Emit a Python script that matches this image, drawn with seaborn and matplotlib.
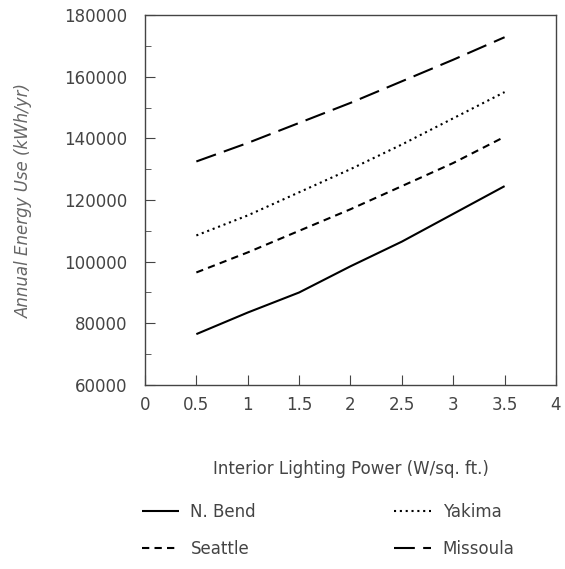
import numpy as np
import pandas as pd
import matplotlib
matplotlib.use("Agg")
import matplotlib.pyplot as plt
import seaborn as sns
from matplotlib.ticker import MultipleLocator

# Interior lighting power (W/sq. ft.)
lighting_power = [0.5, 1.0, 1.5, 2.0, 2.5, 3.0, 3.5]

# Annual energy use (kWh/yr) per city
n_bend = [76500, 83500, 90000, 98500, 106500, 115500, 124500]
seattle = [96500, 103000, 110000, 117000, 124500, 132000, 140500]
yakima = [108500, 115000, 122500, 130000, 138000, 146500, 155000]
missoula = [132500, 138500, 145000, 151500, 158500, 165500, 172800]

cities = ["N. Bend", "Seattle", "Yakima", "Missoula"]
series = [n_bend, seattle, yakima, missoula]
styles = {
    "N. Bend": (0, ()),
    "Seattle": (0, (3.5, 2.5)),
    "Yakima": (0, (1, 1.8)),
    "Missoula": (0, (10, 4)),
}

sns.set_style("ticks")
plt.rcParams['font.family'] = ['DejaVu Sans']
text_color = "#444444"

fig = plt.figure(figsize=(5.65, 5.69), dpi=100)
ax = fig.add_axes([0.2566, 0.3234, 0.7274, 0.6502])

for city, vals in zip(cities, series):
    sns.lineplot(x=lighting_power, y=vals, ax=ax, color="black",
                 linewidth=1.5, linestyle=styles[city], label=city)

ax.set_xlim(0, 4)
ax.set_ylim(60000, 180000)
ax.yaxis.set_major_locator(MultipleLocator(20000))
ax.yaxis.set_minor_locator(MultipleLocator(10000))
ax.set_xticks([0, 0.5, 1, 1.5, 2, 2.5, 3, 3.5, 4])
ax.set_xticklabels(["0", "0.5", "1", "1.5", "2", "2.5", "3", "3.5", "4"])
ax.tick_params(axis="both", which="both", direction="in", colors=text_color,
               labelsize=12)
ax.tick_params(axis="x", which="major", pad=8)
ax.tick_params(axis="y", which="major", pad=13)
ax.tick_params(axis="both", which="major", length=7, color="#444444")
ax.tick_params(axis="y", which="minor", length=4, color="#444444")

for sp in ax.spines.values():
    sp.set_visible(True)
    sp.set_linewidth(1.0)
    sp.set_color("#444444")

ax.set_xlabel("Interior Lighting Power (W/sq. ft.)", fontsize=12,
              color=text_color, labelpad=33)
ax.set_ylabel("Annual Energy Use (kWh/yr)", fontsize=12, color="#666666",
              style="italic", labelpad=22)

leg_handles, leg_labels = ax.get_legend_handles_labels()
ax.get_legend().remove()
fig.legend(leg_handles, leg_labels,
           loc="upper left", bbox_to_anchor=(0.225, 0.142), ncol=2,
           frameon=False, fontsize=12, handlelength=2.2, handletextpad=0.7,
           columnspacing=8.3, labelspacing=1.1, labelcolor=text_color)

fig.savefig("out.png", dpi=100)
